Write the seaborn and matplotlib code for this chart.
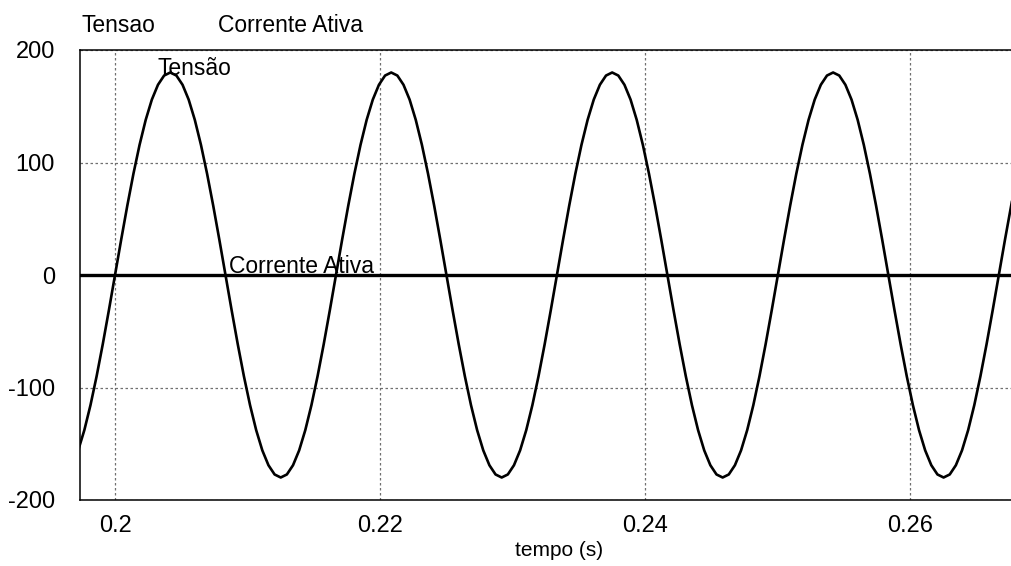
import numpy as np
import pandas as pd
import matplotlib
matplotlib.use("Agg")
import matplotlib.pyplot as plt
import seaborn as sns

# Sampling grid (s): start time and step (60 Hz waveform, 10-degree steps)
t_inicio = 0.197222
dt = 1.0 / 2160.0

# Tensão (V) samples
tensao = [
    -155.9, -137.9, -115.7, -90.0, -61.6, -31.3,
    0.0, 31.3, 61.6, 90.0, 115.7, 137.9, 155.9, 169.1, 177.3, 180.0, 177.3, 169.1, 155.9, 137.9, 115.7, 90.0, 61.6, 31.3,
    0.0, -31.3, -61.6, -90.0, -115.7, -137.9, -155.9, -169.1, -177.3, -180.0, -177.3, -169.1, -155.9, -137.9, -115.7, -90.0, -61.6, -31.3,
    0.0, 31.3, 61.6, 90.0, 115.7, 137.9, 155.9, 169.1, 177.3, 180.0, 177.3, 169.1, 155.9, 137.9, 115.7, 90.0, 61.6, 31.3,
    0.0, -31.3, -61.6, -90.0, -115.7, -137.9, -155.9, -169.1, -177.3, -180.0, -177.3, -169.1, -155.9, -137.9, -115.7, -90.0, -61.6, -31.3,
    0.0, 31.3, 61.6, 90.0, 115.7, 137.9, 155.9, 169.1, 177.3, 180.0, 177.3, 169.1, 155.9, 137.9, 115.7, 90.0, 61.6, 31.3,
    0.0, -31.3, -61.6, -90.0, -115.7, -137.9, -155.9, -169.1, -177.3, -180.0, -177.3, -169.1, -155.9, -137.9, -115.7, -90.0, -61.6, -31.3,
    0.0, 31.3, 61.6, 90.0, 115.7, 137.9, 155.9, 169.1, 177.3, 180.0, 177.3, 169.1, 155.9, 137.9, 115.7, 90.0, 61.6, 31.3,
    0.0, -31.3, -61.6, -90.0, -115.7, -137.9, -155.9, -169.1, -177.3, -180.0, -177.3, -169.1, -155.9, -137.9, -115.7, -90.0, -61.6, -31.3,
    0.0, 31.3, 61.6, 90.0,
]
tempo = [t_inicio + i * dt for i in range(len(tensao))]
corrente_ativa = [0.0] * len(tensao)

x_ticks = [0.2, 0.22, 0.24, 0.26]
x_tick_labels = ["0.2", "0.22", "0.24", "0.26"]
y_ticks = [-200, -100, 0, 100, 200]
y_tick_labels = ["-200", "-100", "0", "100", "200"]

df = pd.DataFrame({"tempo": tempo, "Tensao": tensao, "Corrente Ativa": corrente_ativa})

sns.set_style("white")
plt.rcParams["font.family"] = ["Liberation Sans", "DejaVu Sans"]
plt.rcParams["text.color"] = "black"

fig = plt.figure(figsize=(10.12, 5.66), dpi=100)
ax = fig.add_axes([80 / 1012, 1 - 500 / 566, 1 - 80 / 1012, 450 / 566])

sns.lineplot(data=df, x="tempo", y="Tensao", ax=ax, color="black", lw=1.9, estimator=None)
sns.lineplot(data=df, x="tempo", y="Corrente Ativa", ax=ax, color="black", lw=2.4, estimator=None)

ax.set_xlim(0.197358, 0.26766)
ax.set_ylim(-200, 200)
ax.set_xticks(x_ticks)
ax.set_xticklabels(x_tick_labels)
ax.set_yticks(y_ticks)
ax.set_yticklabels(y_tick_labels)
ax.tick_params(axis="both", length=0, labelsize=17, colors="black")
ax.tick_params(axis="y", pad=18)
ax.tick_params(axis="x", pad=11)

ax.grid(True, color="#707070", linestyle=(0, (2, 2)), lw=0.9)
for side in ["left", "top", "bottom"]:
    ax.spines[side].set_color("black")
    ax.spines[side].set_linewidth(1.1)
ax.spines["right"].set_visible(False)

ax.set_ylabel("")
ax.set_xlabel("tempo (s)", fontsize=15, color="black")
ax.xaxis.set_label_coords(0.514, -0.113)
ax.xaxis.label.set_va("center")

ax.text(0.20324, 178, "Tensão", fontsize=16.5, va="baseline", ha="left", color="black")
ax.text(0.2086, 2.0, "Corrente Ativa", fontsize=16.5, va="baseline", ha="left", color="black")

fig.text(82 / 1012, 1 - 32 / 566, "Tensao", fontsize=16.5, va="baseline", ha="left", color="black")
fig.text(218 / 1012, 1 - 32 / 566, "Corrente Ativa", fontsize=16.5, va="baseline", ha="left", color="black")

fig.savefig("out.png", dpi=100)
